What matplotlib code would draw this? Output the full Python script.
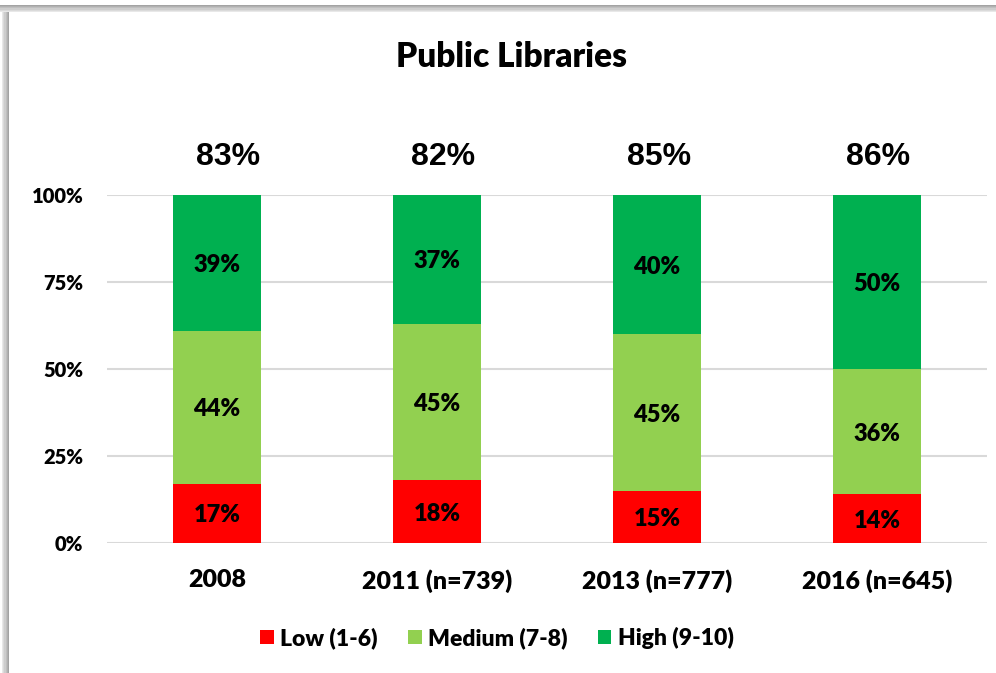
import matplotlib
matplotlib.use("Agg")
import matplotlib.pyplot as plt
from matplotlib.patches import Rectangle
import matplotlib.transforms as mtransforms
import numpy as np

categories = ["2008", "2011 (n=739)", "2013 (n=777)", "2016 (n=645)"]
low = [17, 18, 15, 14]
medium = [44, 45, 45, 36]
high = [39, 37, 40, 50]
totals = ["83%", "82%", "85%", "86%"]
series_names = ["Low (1-6)", "Medium (7-8)", "High (9-10)"]
colors = ["#FF0000", "#92D050", "#00B050"]

W, H = 996, 673
fig = plt.figure(figsize=(W/100, H/100), dpi=100)
fig.patch.set_facecolor("white")

FAM = ["Lato", "DejaVu Sans"]
WT = "heavy"

# frame shadow (top and left)
for i, a in enumerate(np.linspace(0.15, 0.6, 6)):
    c = str(1 - a * 0.6)
    fig.add_artist(Rectangle((0, 1 - (12 - i*1.2)/H), 1, 1.2/H, transform=fig.transFigure,
                             color=c, lw=0))
    fig.add_artist(Rectangle(((i*1.2+2)/W, 0), 1.2/W, 1 - 12/H, transform=fig.transFigure,
                             color=c, lw=0))

ax = fig.add_axes([107/W, 1 - 543/H, (987-107)/W, (543-195)/H])
x = np.arange(len(categories))
lo = np.array(low) / 100
me = np.array(medium) / 100
hi = np.array(high) / 100
bw = 0.4
ax.bar(x, lo, bw, color=colors[0], label=series_names[0], zorder=3)
ax.bar(x, me, bw, bottom=lo, color=colors[1], label=series_names[1], zorder=3)
ax.bar(x, hi, bw, bottom=lo+me, color=colors[2], label=series_names[2], zorder=3)

lab_font = dict(family=FAM, fontweight=WT, fontsize=17)
down = mtransforms.ScaledTranslation(0, -2/100, fig.dpi_scale_trans)
total_dx_px = [11, 6, 2, 1]  # layout nudges of the total labels
for i in range(len(categories)):
    for yv, s in [(lo[i]/2, low[i]), (lo[i] + me[i]/2, medium[i]), (lo[i] + me[i] + hi[i]/2, high[i])]:
        ax.text(x[i], yv, f"{s}%", ha="center", va="center", **lab_font, zorder=4,
                transform=ax.transData + down)
    ax.text(x[i], 1.0, totals[i], ha="center", va="center", family=["Liberation Sans", "DejaVu Sans"],
            fontweight="bold", fontsize=23,
            transform=ax.transData + mtransforms.ScaledTranslation(total_dx_px[i]/100, 38/100,
                                                                   fig.dpi_scale_trans))

ax.set_xlim(-0.5, len(categories) - 0.5)
ax.set_ylim(0, 1)
ax.set_yticks([0, 0.25, 0.5, 0.75, 1.0])
ax.set_yticklabels(["0%", "25%", "50%", "75%", "100%"])
ax.set_xticks(x)
ax.set_xticklabels(categories)
for lbl in ax.get_yticklabels() + ax.get_xticklabels():
    lbl.set_family(FAM)
    lbl.set_fontweight(WT)
for lbl in ax.get_yticklabels():
    lbl.set_fontsize(14.5)
for lbl in ax.get_xticklabels():
    lbl.set_fontsize(18)
ax.tick_params(axis="both", length=0)
ax.tick_params(axis="y", pad=17)
ax.tick_params(axis="x", pad=19)
ax.yaxis.grid(True, color="#D9D9D9", lw=1.5, zorder=0)
ax.set_axisbelow(True)
for s in ax.spines.values():
    s.set_visible(False)

fig.text(511/W, 1 - 57/H, "Public Libraries", ha="center", va="center",
         family=FAM, fontweight=WT, fontsize=24)

handles, labels = ax.get_legend_handles_labels()
leg = fig.legend(handles, labels, loc="center", bbox_to_anchor=(497/W, 1 - 638/H), ncol=3,
                 frameon=False, prop=dict(family=FAM, weight=WT, size=16.5),
                 handlelength=0.6, handleheight=0.6, handletextpad=0.3, columnspacing=1.3)

fig.savefig("out.png", dpi=100, facecolor="white")
